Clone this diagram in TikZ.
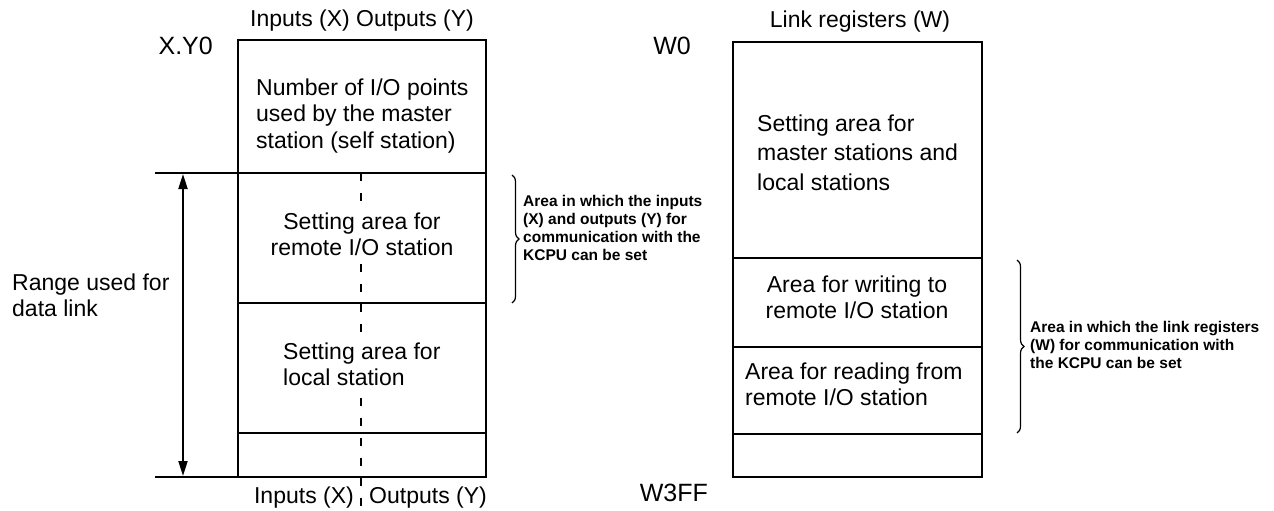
\documentclass[tikz,border=0pt]{standalone}
\usepackage{fontspec}
\setmainfont{Liberation Sans}
\usetikzlibrary{arrows.meta, decorations.pathreplacing}

\tikzset{
  testo/.style={inner sep=0pt, font=\fontsize{23}{26.5}\selectfont},
  nota/.style={inner sep=0pt, align=left, font=\bfseries\fontsize{15.5}{18}\selectfont},
  indir/.style={inner sep=0pt, font=\fontsize{25}{28}\selectfont},
  cornice/.style={line width=1.6pt},
  limite/.style={line width=2.2pt},
  graffa/.style={line width=1.2pt, decorate, decoration={brace, amplitude=7pt}},
  divisore/.style={line width=1.4pt, dash pattern=on 8pt off 12pt},
  punta/.tip={Triangle[length=15pt, width=9pt]},
}

\begin{document}
\begin{tikzpicture}[x=1pt, y=-1pt]
\useasboundingbox (0,0) rectangle (1274,511);
% mappa ingressi/uscite
\coordinate (xyA) at (238,40);
\coordinate (xyB) at (486,477);
\draw[cornice] (xyA) rectangle (xyB);
\draw[cornice] (238,303) -- (486,303);
\draw[cornice] (238,433) -- (486,433);
% limiti del campo usato per il data link
\coordinate (limA) at (155,173);
\coordinate (limB) at (155,477);
\draw[limite] (limA) -- (486,173);
\draw[limite] (limB) -- (486,477);
\coordinate (frA) at (183,174);
\coordinate (frB) at (183,476);
\draw[line width=2pt, punta-punta] (frA) -- (frB);
\node[testo, anchor=north west, align=left] (rng) at (12,273.3) {Range used for\\data link};
% etichette
\node[testo, anchor=base] (xyt) at (362,27) {Inputs (X) Outputs (Y)};
\node[indir, anchor=base east] (xy0) at (213,55) {X.Y0};
\node[testo, anchor=base east] (inx) at (354,503) {Inputs (X)};
\node[testo, anchor=base west] (outy) at (369,503) {Outputs (Y)};
% aree
\node[testo, anchor=north west, align=left] (mst) at (256,78.3) {Number of I/O points\\used by the master\\station (self station)};
\node[testo, anchor=north, align=center] (rio) at (362,212.3) {Setting area for\\remote I/O station};
\node[testo, anchor=north west, align=left] (loc) at (283,342.3) {Setting area for\\local station};
% linea tratteggiata X | Y, interrotta dai testi
\coordinate (divA) at (361,173);
\coordinate (divB) at (361,511);
\draw[divisore] (divA) -- ([yshift=6pt]divA |- rio.north);
\draw[divisore] ([yshift=-8pt]divA |- rio.south) -- ([yshift=6pt]divA |- loc.north);
\draw[divisore] ([yshift=-12pt]divA |- loc.south) -- (divB);
% graffa sinistra
\coordinate (gsA) at (512,175);
\coordinate (gsB) at (512,303);
\draw[graffa] (gsA) -- (gsB);
\node[nota, anchor=north west] (nsx) at (523,194.7) {Area in which the inputs\\(X) and outputs (Y) for\\communication with the\\KCPU can be set};

% registri di collegamento
\coordinate (wA) at (733,42);
\coordinate (wB) at (982,477);
\draw[cornice] (wA) rectangle (wB);
\draw[cornice] (733,258) -- (982,258);
\draw[cornice] (733,347) -- (982,347);
\draw[cornice] (733,434) -- (982,434);
\node[testo, anchor=base] (wt) at (860,28) {Link registers (W)};
\node[indir, anchor=base east] (w0) at (691,55) {W0};
\node[indir, anchor=base east] (w3ff) at (708,501) {W3FF};
\node[testo, anchor=north west, align=left, font=\fontsize{23}{29.5}\selectfont] (wml) at (757,114.3) {Setting area for\\master stations and\\local stations};
\node[testo, anchor=north, align=center] (wwr) at (857,275.3) {Area for writing to\\remote I/O station};
\node[testo, anchor=north west, align=left] (wrd) at (745,362.3) {Area for reading from\\remote I/O station};
% graffa destra
\coordinate (gdA) at (1017,260);
\coordinate (gdB) at (1017,433);
\draw[graffa] (gdA) -- (gdB);
\node[nota, anchor=north west] (ndx) at (1030,320.7) {Area in which the link registers\\(W) for communication with\\the KCPU can be set};
\end{tikzpicture}
\end{document}
